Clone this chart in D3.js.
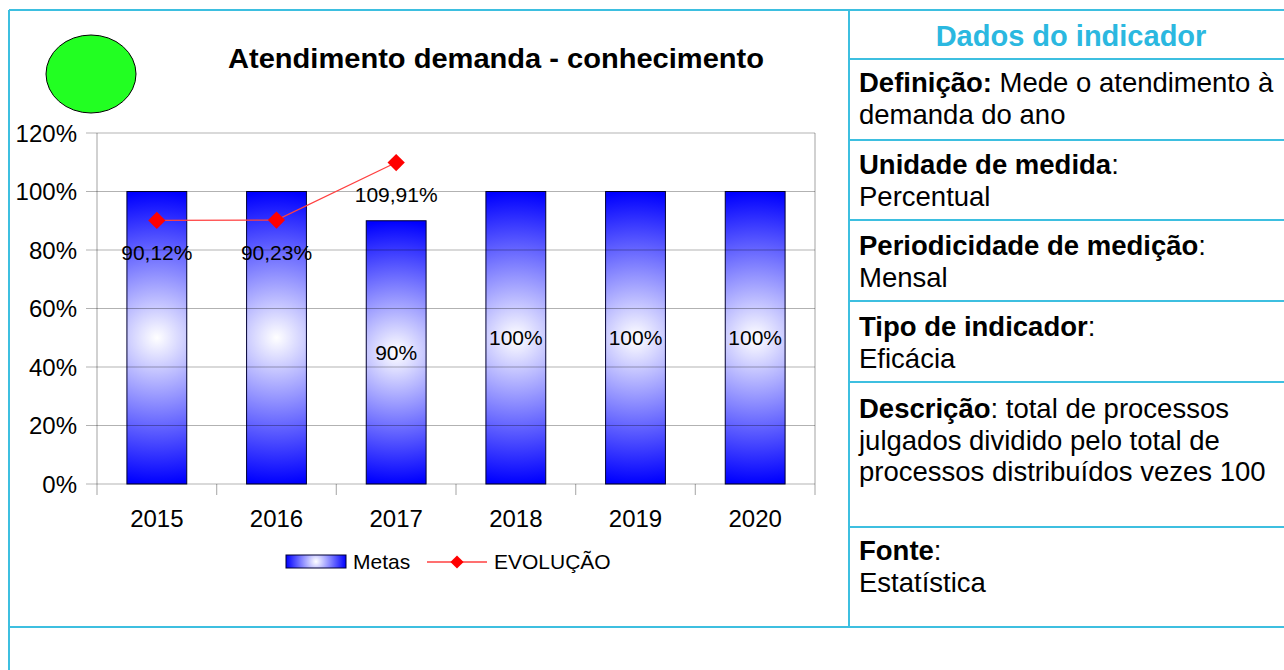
<!DOCTYPE html>
<html><head><meta charset="utf-8">
<script src="https://cdn.jsdelivr.net/npm/d3@7"></script>
<style>
html,body{margin:0;padding:0;background:#fff;}
svg{display:block;font-family:"Liberation Sans",Arial,sans-serif;}
</style></head>
<body><svg id="c" width="1284" height="670"></svg>
<script>
const years = ["2015","2016","2017","2018","2019","2020"];
const metas = [1.00, 1.00, 0.90, 1.00, 1.00, 1.00];
const metasLabels = ["", "", "90%", "100%", "100%", "100%"];
const evolucao = [0.9012, 0.9023, 1.0991];
const evolucaoLabels = ["90,12%", "90,23%", "109,91%"];
const yTicks = [0, 0.2, 0.4, 0.6, 0.8, 1.0, 1.2];
const yTickLabels = ["0%","20%","40%","60%","80%","100%","120%"];
const title = "Atendimento demanda - conhecimento";
const legendItems = ["Metas", "EVOLUÇÃO"];
const panelTitle = "Dados do indicador";
const panelRows = [
  [[["Definição:", true], [" Mede o atendimento à", false]], [["demanda do ano", false]]],
  [[["Unidade de medida", true], [":", false]], [["Percentual", false]]],
  [[["Periodicidade de medição", true], [":", false]], [["Mensal", false]]],
  [[["Tipo de indicador", true], [":", false]], [["Eficácia", false]]],
  [[["Descrição", true], [": total de processos", false]], [["julgados dividido pelo total de", false]], [["processos distribuídos vezes 100", false]]],
  [[["Fonte", true], [":", false]], [["Estatística", false]]]
];

const svg = d3.select("#c");
const BORDER = "#3dbfe0";
const defs = svg.append("defs");

// table borders
const rowLines = [10, 59, 140, 220, 301, 382, 527, 627];
svg.append("line").attr("x1",9).attr("x2",1284).attr("y1",10).attr("y2",10).attr("stroke",BORDER).attr("stroke-width",2);
svg.append("line").attr("x1",9).attr("x2",1284).attr("y1",627).attr("y2",627).attr("stroke",BORDER).attr("stroke-width",2);
svg.append("line").attr("x1",9).attr("x2",9).attr("y1",10).attr("y2",670).attr("stroke",BORDER).attr("stroke-width",2);
svg.append("line").attr("x1",849).attr("x2",849).attr("y1",10).attr("y2",627).attr("stroke",BORDER).attr("stroke-width",2);
rowLines.slice(1,-1).forEach(y=>{
  svg.append("line").attr("x1",849).attr("x2",1284).attr("y1",y).attr("y2",y).attr("stroke",BORDER).attr("stroke-width",2);
});

// right panel
svg.append("text").attr("x",1071).attr("y",46).attr("text-anchor","middle")
  .attr("font-size",29).attr("font-weight","bold").attr("fill","#2bb8e0").text(panelTitle);
const firstBaselines = [92, 174, 255, 336, 418, 560];
panelRows.forEach((row,ri)=>{
  row.forEach((line,li)=>{
    const t = svg.append("text").attr("x",859).attr("y",firstBaselines[ri] + li*31.5)
      .attr("font-size",27.5).attr("fill","#000");
    line.forEach(([s,b])=>{
      t.append("tspan").attr("font-weight", b ? "bold" : "normal").text(s);
    });
  });
});

// chart
const x0 = 97, x1 = 815, yTop = 133, yBot = 484;
const x = d3.scaleBand().domain(years).range([x0,x1]).paddingInner(0.5).paddingOuter(0.25);
const y = d3.scaleLinear().domain([0,1.2]).range([yBot,yTop]);
const step = x.step();

// green indicator
svg.append("ellipse").attr("cx",91).attr("cy",74).attr("rx",45).attr("ry",39)
  .attr("fill","#22ff22").attr("stroke","#000").attr("stroke-width",1);

svg.append("text").attr("x",496).attr("y",68).attr("text-anchor","middle")
  .attr("font-size",28).attr("font-weight","bold").attr("textLength",536).attr("lengthAdjust","spacingAndGlyphs")
  .text(title);

// bars
years.forEach((yr,i)=>{
  const bx = x(yr), bw = x.bandwidth(), top = y(metas[i]), h = yBot - top;
  const g = defs.append("radialGradient").attr("id","g"+i).attr("gradientUnits","userSpaceOnUse")
    .attr("cx", bx+bw/2).attr("cy", top+h/2).attr("r", h/2);
  g.append("stop").attr("offset",0).attr("stop-color","#ffffff");
  g.append("stop").attr("offset",1).attr("stop-color","#0000ff");
  svg.append("rect").attr("x",bx).attr("y",top).attr("width",bw).attr("height",h)
    .attr("fill","url(#g"+i+")").attr("stroke","#000033").attr("stroke-width",1);
});

// grid (drawn over bars, semi-transparent)
const gridG = svg.append("g");
yTicks.forEach(v=>{
  gridG.append("line").attr("x1",86).attr("x2",x1).attr("y1",y(v)).attr("y2",y(v))
    .attr("stroke","#000").attr("stroke-opacity",0.3).attr("stroke-width",1.2);
});
gridG.append("line").attr("x1",x0).attr("x2",x0).attr("y1",yTop).attr("y2",495).attr("stroke","#000").attr("stroke-opacity",0.3).attr("stroke-width",1.2);
gridG.append("line").attr("x1",x1).attr("x2",x1).attr("y1",yTop).attr("y2",495).attr("stroke","#000").attr("stroke-opacity",0.3).attr("stroke-width",1.2);
for(let k=1;k<years.length;k++){
  const xx = x0 + k*step;
  gridG.append("line").attr("x1",xx).attr("x2",xx).attr("y1",yBot).attr("y2",495).attr("stroke","#000").attr("stroke-opacity",0.3).attr("stroke-width",1.2);
}

// y labels
yTicks.forEach((v,i)=>{
  svg.append("text").attr("x",77).attr("y",y(v)).attr("dy","0.36em").attr("text-anchor","end")
    .attr("font-size",24).text(yTickLabels[i]);
});
// x labels
years.forEach(yr=>{
  svg.append("text").attr("x",x(yr)+x.bandwidth()/2).attr("y",527).attr("text-anchor","middle")
    .attr("font-size",24).text(yr);
});

// bar labels
years.forEach((yr,i)=>{
  if(!metasLabels[i]) return;
  const top = y(metas[i]);
  svg.append("text").attr("x",x(yr)+x.bandwidth()/2).attr("y",(top+yBot)/2).attr("dy","0.36em")
    .attr("text-anchor","middle").attr("font-size",21).text(metasLabels[i]);
});

// line
const cx = i => x(years[i]) + x.bandwidth()/2;
const lineGen = d3.line().x((d,i)=>cx(i)).y(d=>y(d));
svg.append("path").attr("d",lineGen(evolucao)).attr("fill","none").attr("stroke","#ff4040").attr("stroke-width",1.3);
const diamond = d3.symbol().type(d3.symbolDiamond2).size(190);
evolucao.forEach((v,i)=>{
  svg.append("path").attr("d",diamond()).attr("transform",`translate(${cx(i)},${y(v)})`)
    .attr("fill","#ff0000");
  svg.append("text").attr("x",cx(i)).attr("y",y(v)+32).attr("dy","0.36em").attr("text-anchor","middle")
    .attr("font-size",21).text(evolucaoLabels[i]);
});

// legend
const lg = defs.append("radialGradient").attr("id","lg").attr("gradientUnits","userSpaceOnUse")
  .attr("cx",316).attr("cy",561.5).attr("r",30);
lg.append("stop").attr("offset",0).attr("stop-color","#ffffff");
lg.append("stop").attr("offset",1).attr("stop-color","#0000ff");
svg.append("rect").attr("x",286).attr("y",555).attr("width",60).attr("height",13)
  .attr("fill","url(#lg)").attr("stroke","#000033").attr("stroke-width",1);
svg.append("text").attr("x",353).attr("y",569).attr("font-size",21).text(legendItems[0]);
svg.append("line").attr("x1",427).attr("x2",487).attr("y1",562).attr("y2",562).attr("stroke","#ff4040").attr("stroke-width",1.3);
svg.append("path").attr("d",d3.symbol().type(d3.symbolDiamond2).size(110)()).attr("transform","translate(457,562)").attr("fill","#ff0000");
svg.append("text").attr("x",494).attr("y",569).attr("font-size",21).text(legendItems[1]);
</script></body></html>
